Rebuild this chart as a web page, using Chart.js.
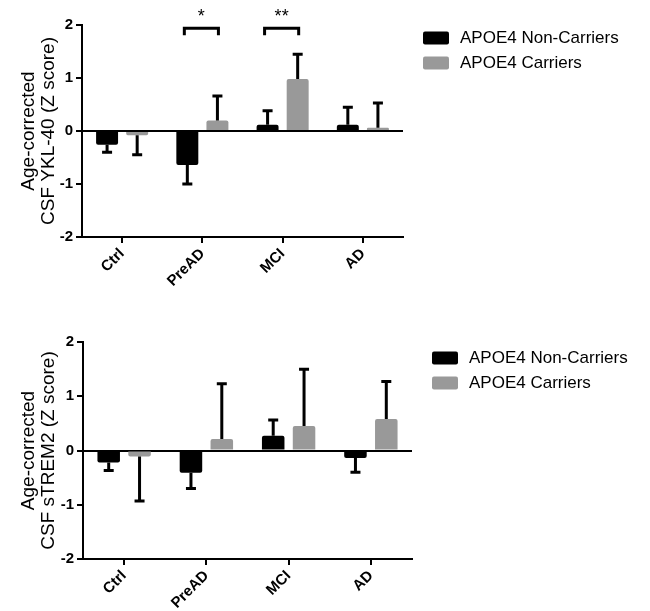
<!DOCTYPE html>
<html>
<head>
<meta charset="utf-8">
<script src="https://cdn.jsdelivr.net/npm/chart.js@4.4.0/dist/chart.umd.min.js"></script>
<style>
  body { margin: 0; background: #fff; }
  .wrap { position: absolute; left: 0; width: 650px; }
  #topWrap { top: 0; height: 305px; }
  #bottomWrap { top: 305px; height: 306px; }
</style>
</head>
<body>
<div class="wrap" id="topWrap"><canvas id="ykl"></canvas></div>
<div class="wrap" id="bottomWrap"><canvas id="trem"></canvas></div>
<script>
// categorias e series
const categories = ['Ctrl', 'PreAD', 'MCI', 'AD'];
const seriesNames = ['APOE4 Non-Carriers', 'APOE4 Carriers'];
const yTicks = [-2, -1, 0, 1, 2];

// YKL-40 (painel de cima)
const yklNonCarriers = [-0.26, -0.64, 0.12, 0.12];
const yklNonCarriersErr = [0.14, 0.36, 0.26, 0.33];
const yklCarriers = [-0.08, 0.20, 0.98, 0.06];
const yklCarriersErr = [0.37, 0.46, 0.47, 0.47];
const yklSignificance = ['', '*', '**', ''];

// sTREM2 (painel de baixo)
const tremNonCarriers = [-0.22, -0.41, 0.27, -0.14];
const tremNonCarriersErr = [0.15, 0.29, 0.29, 0.26];
const tremCarriers = [-0.11, 0.21, 0.45, 0.58];
const tremCarriersErr = [0.82, 1.02, 1.05, 0.69];
const tremSignificance = ['', '', '', ''];

const FONT = "'Liberation Sans', Arial, sans-serif";
const BLACK = '#000000';
const GREY = '#999999';

// barras de erro (só para o lado oposto ao zero)
const errorBars = {
    id: 'errorBars',
    afterDatasetsDraw(chart) {
        const ctx = chart.ctx;
        const y = chart.scales.y;
        chart.data.datasets.forEach((ds, i) => {
            chart.getDatasetMeta(i).data.forEach((bar, j) => {
                const v = ds.data[j];
                const e = ds.errors[j];
                const tip = y.getPixelForValue(v >= 0 ? v + e : v - e);
                ctx.save();
                ctx.strokeStyle = '#000';
                ctx.lineWidth = 3;
                ctx.beginPath();
                ctx.moveTo(bar.x, bar.y);
                ctx.lineTo(bar.x, tip);
                ctx.moveTo(bar.x - 5, tip);
                ctx.lineTo(bar.x + 5, tip);
                ctx.stroke();
                ctx.restore();
            });
        });
    }
};

// colchetes de significancia
const sigBrackets = {
    id: 'sigBrackets',
    afterDatasetsDraw(chart, args, opts) {
        const labels = opts.labels || [];
        const ctx = chart.ctx;
        const y = chart.scales.y;
        const m0 = chart.getDatasetMeta(0).data;
        const m1 = chart.getDatasetMeta(1).data;
        labels.forEach((lab, j) => {
            if (!lab) return;
            const x1 = m0[j].x - 3;
            const x2 = m1[j].x + 1;
            const yt = y.getPixelForValue(1.94);
            ctx.save();
            ctx.strokeStyle = '#000';
            ctx.lineWidth = 3;
            ctx.beginPath();
            ctx.moveTo(x1, yt + 7);
            ctx.lineTo(x1, yt);
            ctx.lineTo(x2, yt);
            ctx.lineTo(x2, yt + 7);
            ctx.stroke();
            ctx.fillStyle = '#000';
            ctx.font = '18px ' + FONT;
            ctx.textAlign = 'center';
            ctx.textBaseline = 'middle';
            ctx.fillText(lab, (x1 + x2) / 2, yt - 11);
            ctx.restore();
        });
    }
};

// legenda ao lado
const sideLegend = {
    id: 'sideLegend',
    afterDraw(chart, args, opts) {
        const ctx = chart.ctx;
        chart.data.datasets.forEach((ds, i) => {
            const cy = opts.y + i * 25;
            ctx.save();
            ctx.fillStyle = ds.backgroundColor;
            ctx.beginPath();
            ctx.roundRect(opts.x, cy - 6.5, 26, 13, 2);
            ctx.fill();
            ctx.fillStyle = '#000';
            ctx.font = '17px ' + FONT;
            ctx.textAlign = 'left';
            ctx.textBaseline = 'middle';
            ctx.fillText(ds.label, opts.x + 37, cy);
            ctx.restore();
        });
    }
};

function makeChart(id, cfg) {
    const H = cfg.height;
    return new Chart(document.getElementById(id), {
        type: 'bar',
        data: {
            labels: categories,
            datasets: [
                { label: seriesNames[0], data: cfg.non, errors: cfg.nonErr, backgroundColor: BLACK },
                { label: seriesNames[1], data: cfg.car, errors: cfg.carErr, backgroundColor: GREY }
            ]
        },
        options: {
            responsive: true,
            maintainAspectRatio: false,
            animation: false,
            layout: { padding: { left: 0, top: cfg.top, right: 650 - cfg.right, bottom: 0 } },
            datasets: {
                bar: { categoryPercentage: 0.75, barPercentage: 0.73, borderRadius: 2 }
            },
            scales: {
                x: {
                    grid: { display: true, offset: false, drawOnChartArea: false, drawTicks: true, tickLength: 6, color: '#000', lineWidth: 2 },
                    border: { color: '#000', width: 2 },
                    ticks: { color: '#000', font: { family: FONT, size: 15, weight: 'bold' }, maxRotation: 45, minRotation: 45, padding: 2 },
                    afterFit: s => { s.height = H - cfg.bottom; }
                },
                y: {
                    min: -2,
                    max: 2,
                    afterBuildTicks: s => { s.ticks = yTicks.map(v => ({ value: v })); },
                    grid: {
                        drawOnChartArea: true,
                        drawTicks: true,
                        tickLength: 6,
                        lineWidth: 2,
                        tickColor: '#000',
                        color: c => (c.tick && c.tick.value === 0) ? '#000' : 'rgba(0,0,0,0)'
                    },
                    border: { color: '#000', width: 2 },
                    ticks: { color: '#000', font: { family: FONT, size: 15, weight: 'bold' }, padding: 3 },
                    title: {
                        display: true,
                        text: cfg.title,
                        color: '#000',
                        font: { family: FONT, size: 19, lineHeight: 1.05 },
                        padding: { top: 19, bottom: 0 }
                    },
                    afterFit: s => { s.width = cfg.left; }
                }
            },
            plugins: {
                legend: { display: false },
                tooltip: { enabled: false },
                sigBrackets: { labels: cfg.sig },
                sideLegend: { x: cfg.legendX, y: cfg.legendY }
            }
        },
        plugins: [errorBars, sigBrackets, sideLegend]
    });
}

makeChart('ykl', {
    height: 305, left: 82, right: 403, top: 25, bottom: 237,
    non: yklNonCarriers, nonErr: yklNonCarriersErr,
    car: yklCarriers, carErr: yklCarriersErr,
    sig: yklSignificance,
    title: ['Age-corrected', 'CSF YKL-40 (Z score)'],
    legendX: 423, legendY: 38
});

makeChart('trem', {
    height: 306, left: 83, right: 412, top: 37, bottom: 254,
    non: tremNonCarriers, nonErr: tremNonCarriersErr,
    car: tremCarriers, carErr: tremCarriersErr,
    sig: tremSignificance,
    title: ['Age-corrected', 'CSF sTREM2 (Z score)'],
    legendX: 432, legendY: 53
});
</script>
</body>
</html>
